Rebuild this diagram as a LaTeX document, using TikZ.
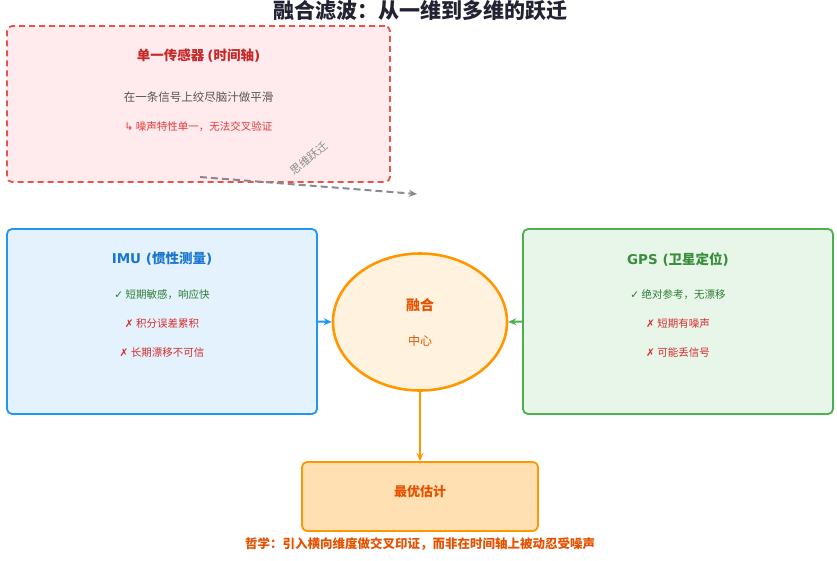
\documentclass[tikz,border=0pt]{standalone}
\usepackage{fontspec}
\setmainfont{Noto Sans CJK SC}
\newfontfamily\latfont{DejaVu Sans}
\usetikzlibrary{arrows.meta,positioning,shapes.geometric}

\definecolor{titlecol}{HTML}{222233}
\definecolor{redline}{HTML}{E8534A}
\definecolor{redfill}{HTML}{FFEBEE}
\definecolor{redhead}{HTML}{C62828}
\definecolor{redtext}{HTML}{E53935}
\definecolor{graytext}{HTML}{555555}
\definecolor{leapgray}{HTML}{8A8A8A}
\definecolor{imuline}{HTML}{2196F3}
\definecolor{imufill}{HTML}{E3F2FD}
\definecolor{imuhead}{HTML}{1976D2}
\definecolor{gpsline}{HTML}{4CAF50}
\definecolor{gpsfill}{HTML}{E8F5E9}
\definecolor{gpshead}{HTML}{388E3C}
\definecolor{okgreen}{HTML}{2E7D32}
\definecolor{badred}{HTML}{D32F2F}
\definecolor{fuseline}{HTML}{FF9800}
\definecolor{fusefill}{HTML}{FFF3E0}
\definecolor{finalfill}{HTML}{FFE0B2}
\definecolor{fusetext}{HTML}{E65100}

\begin{document}
\begin{tikzpicture}[x=1pt,y=-1pt,>={Stealth[length=8pt,width=7pt]},
    card/.style={rectangle,rounded corners=5pt,line width=1.8pt,minimum width=310pt,minimum height=185pt},
    head/.style={font=\fontsize{13.5}{15}\selectfont\bfseries},
    item/.style={font=\fontsize{10.5}{12}\selectfont}]
      \useasboundingbox (0,0) rectangle (837,560);

      \node[text=titlecol,font=\fontsize{21}{23}\selectfont\bfseries] (title) at (420,11) {融合滤波：从一维到多维的跃迁};

      % single sensor
      \node[card,draw=redline,fill=redfill,dash pattern=on 6pt off 4pt,minimum width=383pt,minimum height=156pt] (single) at (198.5,104) {};
      \node[head,text=redhead] (singlehead) at (198.5,56) {单一传感器 {\latfont(}时间轴{\latfont)}};
      \node[text=graytext,font=\fontsize{11.5}{13}\selectfont] (singletext) at (198.5,97) {在一条信号上绞尽脑汁做平滑};
      \node[text=redtext,font=\fontsize{10.5}{12}\selectfont] (singlenote) at (198.5,127) {{\latfont ↳} 噪声特性单一，无法交叉验证};

      \coordinate (leapstart) at (200,177);
      \coordinate (leapend) at (417,194);
      \draw[->,leapgray,line width=2pt,dash pattern=on 7pt off 4pt] (leapstart) -- (leapend);
      \node[text=leapgray,font=\fontsize{11}{12}\selectfont,rotate=40,inner sep=1pt] (leaplabel) at (309,158) {思维跃迁};

      % sensors
      \node[card,draw=imuline,fill=imufill] (imu) at (162,321.5) {};
      \node[head,text=imuhead] (imuheadtext) at (162,259) {{\latfont IMU (}惯性测量{\latfont )}};
      \node[item,text=okgreen] (imuok) at (162,295) {{\latfont ✓} 短期敏感，响应快};
      \node[item,text=badred] (imubad1) at (162,324) {{\latfont ✗} 积分误差累积};
      \node[item,text=badred] (imubad2) at (162,353) {{\latfont ✗} 长期漂移不可信};

      \node[card,draw=gpsline,fill=gpsfill] (gps) at (678,321.5) {};
      \node[head,text=gpshead] (gpsheadtext) at (678,259) {{\latfont GPS (}卫星定位{\latfont )}};
      \node[item,text=okgreen] (gpsok) at (678,295) {{\latfont ✓} 绝对参考，无漂移};
      \node[item,text=badred] (gpsbad1) at (678,324) {{\latfont ✗} 短期有噪声};
      \node[item,text=badred] (gpsbad2) at (678,353) {{\latfont ✗} 可能丢信号};

      % fusion
      \node[ellipse,draw=fuseline,fill=fusefill,line width=2.6pt,minimum width=174pt,minimum height=137pt] (fusion) at (420,322) {};
      \node[text=fusetext,font=\fontsize{14}{16}\selectfont\bfseries] (fusehead) at (420,305) {融合};
      \node[text=fusetext,font=\fontsize{12}{14}\selectfont] (fusesub) at (420,341) {中心};

      \node[rectangle,rounded corners=5pt,draw=fuseline,fill=finalfill,line width=1.8pt,minimum width=236pt,minimum height=69pt] (final) at (420,496.5) {};
      \node[text=fusetext,font=\fontsize{13}{15}\selectfont\bfseries] (finaltext) at (420,492) {最优估计};

      \draw[->,imuline,line width=2pt] (imu.east) -- (fusion.west);
      \draw[->,gpsline,line width=2pt] (gps.west) -- (fusion.east);
      \draw[->,fuseline,line width=2.6pt] (fusion.south) -- (final.north);

      \node[text=fusetext,font=\fontsize{12.5}{14}\selectfont\bfseries] (motto) at (420,544) {哲学：引入横向维度做交叉印证，而非在时间轴上被动忍受噪声};
    \end{tikzpicture}
\end{document}
